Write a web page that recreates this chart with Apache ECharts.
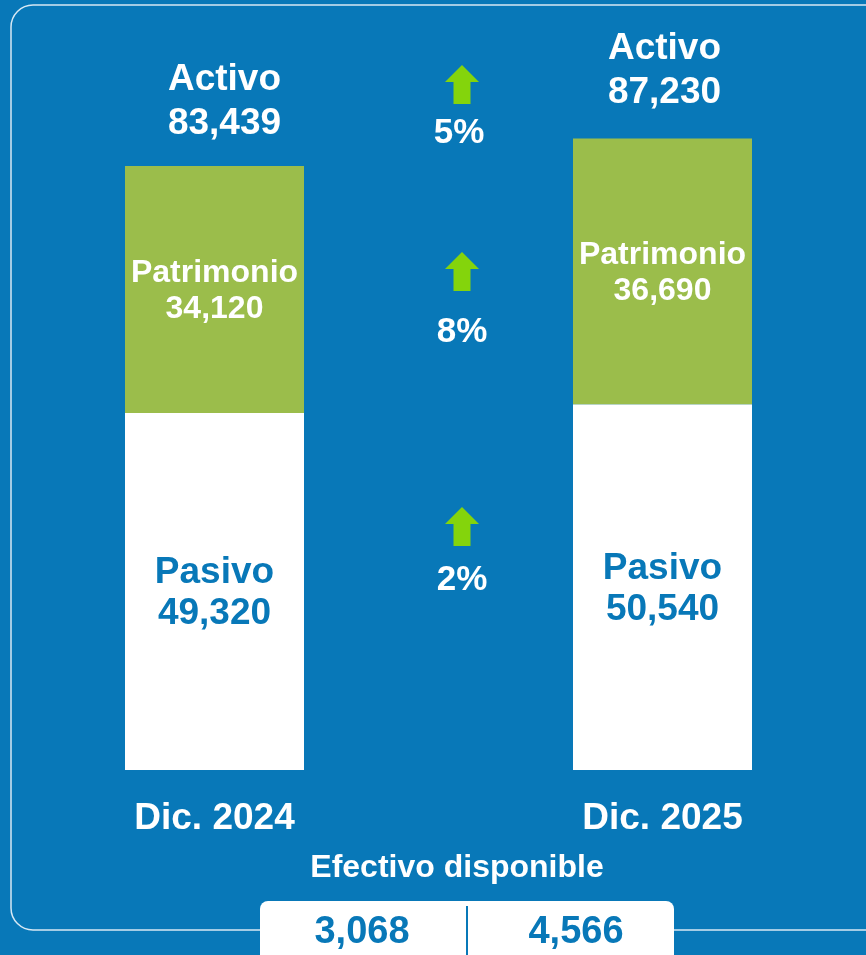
<!DOCTYPE html>
<html>
<head>
<meta charset="utf-8">
<script src="https://cdn.jsdelivr.net/npm/echarts@6/dist/echarts.min.js"></script>
<style>
  html, body { margin: 0; padding: 0; background: #0878b8; }
  #chart { width: 866px; height: 955px; }
</style>
</head>
<body>
<div id="chart"></div>
<script>
// datos del gráfico
const periods = ['Dic. 2024', 'Dic. 2025']
const pasivo = [49320, 50540]
const patrimonio = [34120, 36690]
const activo = [83439, 87230]
const growth = ['5%', '8%', '2%'] // activo, patrimonio, pasivo
const efectivo = [3068, 4566]

const BLUE = '#0878b8'
const GREEN = '#9bbd4b'
const ARROW = '#84d40c'
const FONT = '"Liberation Sans", Arial, sans-serif'
const activoOffsets = [[10, 2], [2, -2]] // ajuste de posicion de etiquetas

const fmt = v => v.toLocaleString('en-US')

const chart = echarts.init(document.getElementById('chart'))

// flecha verde hacia arriba
function arrow (cx, top) {
  return {
    type: 'polygon',
    shape: {
      points: [
        [cx, top], [cx + 17, top + 17], [cx + 8.5, top + 17], [cx + 8.5, top + 39],
        [cx - 8.5, top + 39], [cx - 8.5, top + 17], [cx - 17, top + 17]
      ]
    },
    style: { fill: ARROW }
  }
}

function pctText (cx, cy, txt) {
  return {
    type: 'text',
    x: cx, y: cy,
    style: {
      text: txt, fill: '#fff', font: 'bold 35px ' + FONT,
      align: 'center', verticalAlign: 'middle'
    }
  }
}

const option = {
  backgroundColor: BLUE,
  animation: false,
  grid: { left: 214.5, right: 203.5, top: 118.5, bottom: 185 },
  xAxis: {
    type: 'category',
    data: periods,
    boundaryGap: false,
    axisLine: { show: false },
    axisTick: { show: false },
    axisLabel: {
      color: '#fff', fontSize: 37, fontWeight: 'bold', fontFamily: FONT, margin: 30
    }
  },
  yAxis: {
    type: 'value', min: 0, max: 90000, show: false, splitLine: { show: false }
  },
  series: [
    {
      name: 'Pasivo',
      type: 'bar',
      stack: 'total',
      barWidth: 179,
      clip: false,
      data: pasivo,
      itemStyle: { color: '#fff' },
      label: {
        show: true,
        position: 'inside',
        offset: [0, 2],
        formatter: p => 'Pasivo\n' + fmt(p.value),
        color: BLUE, fontSize: 37, fontWeight: 'bold', fontFamily: FONT, lineHeight: 41
      }
    },
    {
      name: 'Patrimonio',
      type: 'bar',
      stack: 'total',
      barWidth: 179,
      clip: false,
      data: patrimonio,
      itemStyle: { color: GREEN },
      label: {
        show: true,
        position: 'inside',
        offset: [0, 2],
        formatter: p => 'Patrimonio\n' + fmt(p.value),
        color: '#fff', fontSize: 32, fontWeight: 'bold', fontFamily: FONT, lineHeight: 36
      }
    },
    {
      name: 'Activo',
      type: 'scatter',
      data: activo.map((v, i) => ({ value: v, label: { offset: activoOffsets[i] } })),
      symbolSize: 0,
      clip: false,
      itemStyle: { opacity: 1 },
      label: {
        show: true,
        position: 'top',
        distance: 22,
        formatter: p => 'Activo\n' + fmt(p.value),
        color: '#fff', fontSize: 37, fontWeight: 'bold', fontFamily: FONT, lineHeight: 44
      }
    }
  ],
  graphic: [
    {
      type: 'rect',
      shape: { x: 11, y: 5, width: 875, height: 925, r: 22 },
      style: { fill: 'none', stroke: '#d6e8f4', lineWidth: 1.5 },
      z: 0
    },
    arrow(462, 65), pctText(459, 133, growth[0]),
    arrow(462, 252), pctText(462, 332, growth[1]),
    arrow(462, 507), pctText(462, 580, growth[2]),
    {
      type: 'text',
      x: 457, y: 868,
      style: {
        text: 'Efectivo disponible', fill: '#fff', font: 'bold 32px ' + FONT,
        align: 'center', verticalAlign: 'middle'
      }
    },
    {
      type: 'rect',
      shape: { x: 260, y: 901, width: 414, height: 70, r: 8 },
      style: { fill: '#fff' },
      z: 10
    },
    {
      type: 'line',
      shape: { x1: 467, y1: 906, x2: 467, y2: 955 },
      style: { stroke: BLUE, lineWidth: 2 },
      z: 11
    },
    {
      type: 'text',
      x: 362, y: 933, z: 11,
      style: {
        text: fmt(efectivo[0]), fill: BLUE, font: 'bold 38px ' + FONT,
        align: 'center', verticalAlign: 'middle'
      }
    },
    {
      type: 'text',
      x: 576, y: 933, z: 11,
      style: {
        text: fmt(efectivo[1]), fill: BLUE, font: 'bold 38px ' + FONT,
        align: 'center', verticalAlign: 'middle'
      }
    }
  ]
}

chart.setOption(option)
</script>
</body>
</html>
